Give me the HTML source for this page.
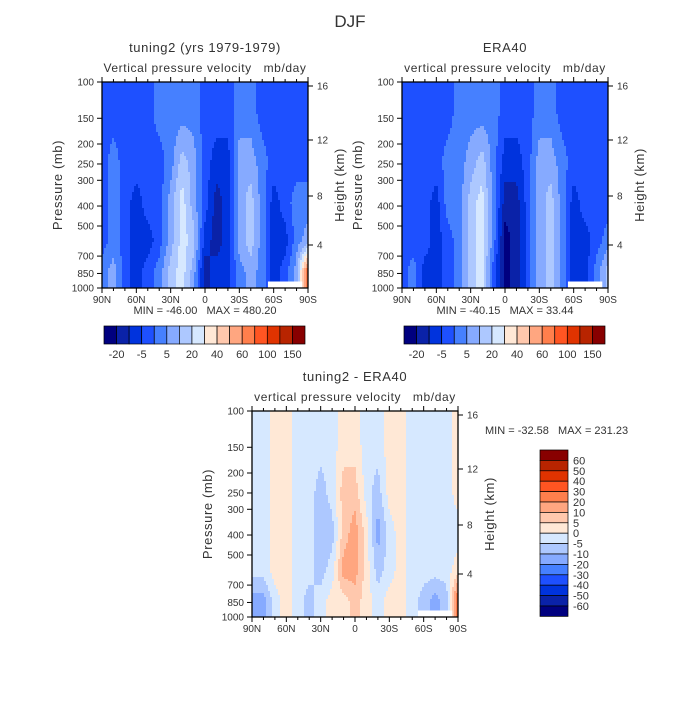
<!DOCTYPE html>
<html><head><meta charset="utf-8">
<style>
body{margin:0;background:#fff;}
svg text{font-family:"Liberation Sans",sans-serif;fill:#333;white-space:pre;}
</style></head>
<body>
<svg id="c" width="700" height="700" xmlns="http://www.w3.org/2000/svg">
<text x="350" y="27" font-size="17" text-anchor="middle" fill="#555">DJF</text>
</svg>
<script>
// ---- data ----
const lats = [90,80,70,60,50,40,30,20,10,0,-10,-20,-30,-40,-50,-60,-70,-80,-90];
const levels = [141,245,387,592,837];
const pressureTicks = [100,150,200,250,300,400,500,700,850,1000];
const heightTicks = [16,12,8,4];
const latTickLabels = ["90N","60N","30N","0","30S","60S","90S"];
const latTicks = [90,60,30,0,-30,-60,-90];
const absBarLabels = ["-20","-5","5","20","40","60","100","150"];
const diffBarLabels = ["60","50","40","30","20","10","5","0","-5","-10","-20","-30","-40","-50","-60"];
const modelField = [
 [3,3,3,3,3,4,4,4,4,3,3,3,4,4,3,3,3,3,3],
 [3,4,3,3,3,3,4,6,5,3,2,2,5,5,4,3,3,3,3],
 [3,4,3,2,3,3,5,7,5,3,1,2,5,6,4,2,3,4,4],
 [3,4,3,2,2,3,5,7,6,2,1,2,5,6,4,2,2,4,5],
 [4,5,3,2,3,4,6,7,5,1,2,2,4,5,4,2,3,5,12]];
const obsField = [
 [3,3,3,3,3,4,4,4,4,3,3,3,4,4,3,3,3,3,3],
 [3,3,3,3,4,4,5,6,4,2,2,3,5,5,4,3,3,3,3],
 [3,3,3,2,4,4,6,7,4,1,1,3,5,6,4,2,3,3,3],
 [3,3,3,2,3,4,6,7,4,0,1,3,5,6,4,2,2,3,4],
 [3,4,2,2,3,4,6,7,3,0,1,3,5,6,4,2,2,4,6]];
const diffField = [
 [7,7,8,8,7,7,7,7,8,8,7,7,8,8,7,7,7,7,8],
 [7,7,8,8,7,7,6,7,9,9,7,6,8,8,7,7,7,7,8],
 [7,7,8,8,7,7,6,6,9,10,8,5,7,8,7,7,7,7,7],
 [7,7,8,8,7,7,6,7,10,10,8,6,7,8,7,7,7,7,8],
 [5,5,7,8,7,6,7,8,8,9,8,7,8,8,7,6,5,6,12]];
const minMax = ["MIN = -46.00   MAX = 480.20","MIN = -40.15   MAX = 33.44","MIN = -32.58   MAX = 231.23"];
const pal = ["#00007f","#0a22a8","#0033dd","#1e50ff","#4680ff","#86aaff","#adc8ff","#d6e8ff","#ffe8d6","#ffc8ad","#ffa680","#ff7f4c","#ff5522","#e03300","#b82400","#880000"];

const svg = document.getElementById('c');
const NS = "http://www.w3.org/2000/svg";
function mk(tag, attrs, parent){const e=document.createElementNS(NS,tag);for(const k in attrs)e.setAttribute(k,attrs[k]);(parent||svg).appendChild(e);return e;}
function txt(x,y,s,size,anchor,parent){const t=mk('text',{x:x,y:y,'font-size':size,'text-anchor':anchor||'middle'},parent);t.textContent=s;return t;}

function panel(x0,y0,field,title,sub,name){
  const W=206,H=206;
  const g=mk('g',{});
  
  
  const xOf=lat=>x0+(90-lat)/180*W;
  const yOf=p=>y0+Math.log10(p/100)*H;
  const latOfX=x=>90-(x-x0)/W*180;
  const lpOfY=y=>(y-y0)/H+2;
  const lv=levels.map(p=>Math.log10(p));
  function val(lat,lp){
    let fi=(90-lat)/10; fi=Math.max(0,Math.min(18,fi));
    let i0=Math.min(17,Math.floor(fi)), fx=fi-i0;
    let j=0, fy;
    if(lp<=lv[0]){j=0;fy=0;} else if(lp>=lv[4]){j=3;fy=1;} else {while(lv[j+1]<lp)j++; fy=(lp-lv[j])/(lv[j+1]-lv[j]);}
    const a=field[j][i0]*(1-fx)+field[j][i0+1]*fx;
    const b=field[j+1][i0]*(1-fx)+field[j+1][i0+1]*fx;
    return Math.round(a*(1-fy)+b*fy);
  }
  const step=2;
  for(let x=x0;x<x0+W;x+=step){
    const lat=latOfX(x+step/2);
    let runStart=y0, runC=null;
    for(let y=y0;y<=y0+H;y+=step){
      const c = y<y0+H ? val(lat,lpOfY(y+step/2)) : -1;
      if(c!==runC){
        if(runC!==null){
          const r=mk('rect',{x:x,y:runStart,width:step+0.5,height:Math.min(y,y0+H)-runStart+0.5,fill:pal[runC]},g);
          
          
        }
        runStart=y; runC=c;
      }
    }
  }
  mk('rect',{x:xOf(-55),y:yOf(930),width:xOf(-85)-xOf(-55),height:y0+H-yOf(930),fill:'#fff'},g);
  mk('rect',{x:x0,y:y0,width:W,height:H,fill:'none',stroke:'#000','stroke-width':1.3},g);
  pressureTicks.forEach(p=>{const y=yOf(p);mk('line',{x1:x0-5,x2:x0,y1:y,y2:y,stroke:'#000'},g);
    const t=txt(x0-8,y+3.5,String(p),10,'end',g);});
  const hOff={16:4,12:58,8:114,4:163};
  heightTicks.forEach(h=>{const y=y0+hOff[h];mk('line',{x1:x0+W,x2:x0+W+5,y1:y,y2:y,stroke:'#000'},g);
    const t=txt(x0+W+9,y+3.5,String(h),10,'start',g);});
  for(let l=90;l>=-90;l-=10){const x=xOf(l);const big=l%30===0;
    mk('line',{x1:x,x2:x,y1:y0+H,y2:y0+H+(big?5:3),stroke:'#000'},g);
    mk('line',{x1:x,x2:x,y1:y0,y2:y0-(big?5:3),stroke:'#000'},g);}
  latTicks.forEach((l,i)=>{const t=txt(xOf(l),y0+H+15,latTickLabels[i],10,'middle',g);});
  let t=txt(x0+W/2,y0-30,title,13,'middle',g);
  t.setAttribute('letter-spacing','0.6');
  t=txt(x0+W/2,y0-10,sub,12,'middle',g);
  t.setAttribute('letter-spacing','0.6');
  t=mk('text',{x:0,y:0,'font-size':13,'text-anchor':'middle','letter-spacing':'0.6',transform:`translate(${x0-40},${y0+H/2}) rotate(-90)`},g);t.textContent='Pressure (mb)';
  
  t=mk('text',{x:0,y:0,'font-size':13,'text-anchor':'middle','letter-spacing':'0.6',transform:`translate(${x0+W+36},${y0+H/2}) rotate(-90)`},g);t.textContent='Height (km)';
  
}

function hbar(x0,y0,name){
  const g=mk('g',{});
  
  
  const bw=201/16;
  pal.forEach((c,i)=>{const r=mk('rect',{x:x0+i*bw,y:y0,width:bw,height:18,fill:c,stroke:'#000','stroke-width':0.7},g);
    });
  absBarLabels.forEach((s,i)=>{const t=txt(x0+(2*i+1)*bw,y0+32,s,11,'middle',g);});
}

panel(102,82,modelField,'tuning2 (yrs 1979-1979)','Vertical pressure velocity   mb/day','panel-tuning2');
panel(402,82,obsField,'ERA40','vertical pressure velocity   mb/day','panel-era40');
panel(252,411,diffField,'tuning2 - ERA40','vertical pressure velocity   mb/day','panel-difference');
let m=txt(205,314,minMax[0],11,'middle');
m=txt(505,314,minMax[1],11,'middle');
m=txt(485,434,minMax[2],11,'start');
hbar(104,326,'colorbar-tuning2');
hbar(404,326,'colorbar-era40');
const lg=mk('g',{});


const bh=10.4;
for(let i=0;i<16;i++){const r=mk('rect',{x:540,y:450+i*bh,width:28,height:bh,fill:pal[15-i],stroke:'#000','stroke-width':0.7},lg);
  }
diffBarLabels.forEach((s,i)=>{const t=txt(573,450+(i+1)*bh+4,s,11,'start',lg);});
</script>
</body></html>
